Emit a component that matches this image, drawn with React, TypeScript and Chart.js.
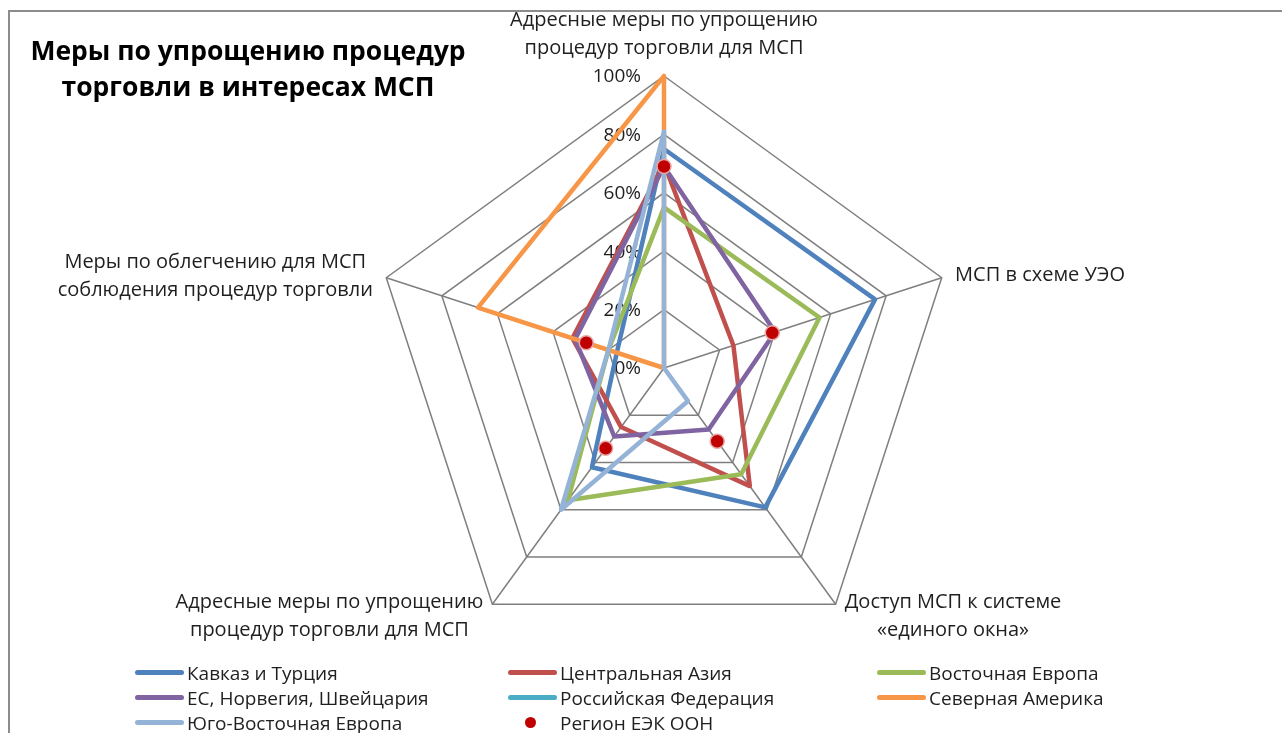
import React, { useEffect, useRef } from "react";
import { Chart, registerables } from "chart.js";

Chart.register(...registerables);

const FONT = '"Open Sans", "Noto Sans", "Liberation Sans", sans-serif';

const axisLabels: string[][] = [
  ["Адресные меры по упрощению", "процедур торговли для МСП"],
  ["МСП в схеме УЭО"],
  ["Доступ МСП к системе", "«единого окна»"],
  ["Адресные меры по упрощению", "процедур торговли для МСП"],
  ["Меры по облегчению для МСП", "соблюдения процедур торговли"],
];

const tickValues = [0, 20, 40, 60, 80, 100];
const tickLabels = ["0%", "20%", "40%", "60%", "80%", "100%"];

const seriesNames = [
  "Кавказ и Турция",
  "Центральная Азия",
  "Восточная Европа",
  "ЕС, Норвегия, Швейцария",
  "Российская Федерация",
  "Северная Америка",
  "Юго-Восточная Европа",
  "Регион ЕЭК ООН",
];

const kavkazTurkey = [75, 76, 59, 42, 17];
const centralAsia = [70, 25, 50, 25, 33];
const easternEurope = [55, 56, 45, 56, 20];
const euNorwaySwiss = [69, 40, 26, 29, 32];
const russianFederation: (number | null)[] = [null, null, null, null, null];
const northAmerica = [100, 0, 0, 0, 67];
const southEastEurope = [81, 0, 14, 60, 20];
const uneceRegion = [69, 39, 31, 34, 28];

const seriesColors = [
  "#4F81BD",
  "#C0504D",
  "#9BBB59",
  "#8064A2",
  "#4BACC6",
  "#F79646",
  "#95B3D7",
  "#C00000",
];

const seriesData = [
  kavkazTurkey,
  centralAsia,
  easternEurope,
  euNorwaySwiss,
  russianFederation,
  northAmerica,
  southEastEurope,
  uneceRegion,
];

const LABEL_FONT_SIZE = 20;
const TICK_FONT_SIZE = 19;
const LEGEND_FONT_SIZE = 19;
const LABEL_LINE = 28;
const TEXT_COLOR = "#1F1F1F";

const labelsPlugin = {
  id: "customLabels",
  beforeDatasetsDraw(chart: any) {
    const scale = chart.scales.r;
    const ctx = chart.ctx;
    ctx.save();
    ctx.font = `${TICK_FONT_SIZE}px ${FONT}`;
    ctx.fillStyle = TEXT_COLOR;
    ctx.textAlign = "right";
    ctx.textBaseline = "middle";
    tickValues.forEach((v, i) => {
      const d = scale.getDistanceFromCenterForValue(v);
      ctx.fillText(tickLabels[i], scale.xCenter - 23, scale.yCenter - d + 1);
    });
    ctx.restore();
  },
  afterDraw(chart: any) {
    const scale = chart.scales.r;
    const ctx = chart.ctx;
    ctx.save();
    ctx.font = `${LABEL_FONT_SIZE}px ${FONT}`;
    ctx.fillStyle = TEXT_COLOR;
    ctx.textBaseline = "middle";
    ctx.textAlign = "center";
    axisLabels.forEach((lines, i) => {
      const pos = scale.getPointPosition(i, scale.drawingArea + 12);
      const w = Math.max(...lines.map((l) => ctx.measureText(l).width));
      const h = lines.length * LABEL_LINE;
      let cx = pos.x;
      const dx = pos.x - scale.xCenter;
      if (dx > 5) cx = pos.x + 2 + w / 2;
      else if (dx < -5) cx = pos.x - 2 - w / 2;
      let top: number;
      if (i === 0) top = pos.y - 2 - h;
      else if (lines.length === 1) top = pos.y + 1 - h / 2;
      else top = pos.y + 2 - h / 2;
      lines.forEach((l, k) => {
        ctx.fillText(l, cx, top + LABEL_LINE * k + LABEL_LINE / 2);
      });
    });
    ctx.restore();
  },
};

function LegendItem({ name, color, dot }: { name: string; color: string; dot: boolean }) {
  return (
    <div style={{ display: "flex", alignItems: "center", height: 25 }}>
      <div style={{ width: 49, height: 25, position: "relative", flex: "none" }}>
        {dot ? (
          <div
            style={{
              position: "absolute",
              left: 17,
              top: 7,
              width: 11,
              height: 11,
              borderRadius: "50%",
              background: color,
            }}
          />
        ) : (
          <div
            style={{
              position: "absolute",
              left: 0,
              top: 10,
              width: 49,
              height: 5,
              borderRadius: 3,
              background: color,
            }}
          />
        )}
      </div>
      <span style={{ marginLeft: 3, fontSize: LEGEND_FONT_SIZE, color: TEXT_COLOR, whiteSpace: "nowrap" }}>
        {name}
      </span>
    </div>
  );
}

export default function App() {
  const canvasRef = useRef<HTMLCanvasElement | null>(null);

  useEffect(() => {
    if (!canvasRef.current) return;
    const datasets = seriesNames.map((name, i) => {
      const isDot = i === seriesNames.length - 1;
      return {
        label: name,
        data: seriesData[i],
        borderColor: seriesColors[i],
        backgroundColor: seriesColors[i],
        borderWidth: isDot ? 0 : 4.5,
        borderJoinStyle: "round" as const,
        fill: false,
        showLine: !isDot,
        pointRadius: isDot ? 7 : 0,
        pointHoverRadius: isDot ? 7 : 0,
        pointBackgroundColor: seriesColors[i],
        pointBorderColor: "#E6A6A6",
        pointBorderWidth: isDot ? 1.5 : 0,
        order: seriesNames.length - i,
      };
    });
    const chart = new Chart(canvasRef.current, {
      type: "radar",
      data: {
        labels: axisLabels.map((l) => l.join(" ")),
        datasets,
      },
      plugins: [labelsPlugin],
      options: {
        responsive: false,
        animation: false,
        layout: { padding: { left: 372, right: 326, top: 76, bottom: 73 } },
        plugins: { legend: { display: false }, tooltip: { enabled: false } },
        scales: {
          r: {
            min: 0,
            max: 100,
            ticks: { stepSize: 20, display: false },
            pointLabels: { display: false },
            grid: { color: "#7F7F7F", lineWidth: 1.5 },
            angleLines: { color: "#7F7F7F", lineWidth: 1.5 },
          },
        },
      },
    });
    return () => chart.destroy();
  }, []);

  const cols = [135, 508, 877];
  const rows = [660, 685, 710];

  return (
    <div style={{ position: "relative", width: 1282, height: 733, overflow: "hidden", fontFamily: FONT, background: "#fff" }}>
      <style>{`html,body{margin:0;padding:0;overflow:hidden;background:#fff}`}</style>
      <div
        style={{
          position: "absolute",
          left: 8,
          top: 10,
          width: 1300,
          height: 800,
          borderTop: "2px solid #8C8C8C",
          borderLeft: "2px solid #8C8C8C",
        }}
      />
      <canvas
        ref={canvasRef}
        width={1282}
        height={733}
        style={{ position: "absolute", left: 0, top: 0, display: "block" }}
      />
      <div
        style={{
          position: "absolute",
          left: 10,
          top: 32,
          width: 476,
          textAlign: "center",
          fontWeight: 700,
          fontSize: 26.5,
          lineHeight: "36px",
          color: "#000",
        }}
      >
        Меры по упрощению процедур
        <br />
        торговли в интересах МСП
      </div>
      {seriesNames.map((name, i) => (
        <div key={name} style={{ position: "absolute", left: cols[i % 3], top: rows[Math.floor(i / 3)] }}>
          <LegendItem name={name} color={seriesColors[i]} dot={i === seriesNames.length - 1} />
        </div>
      ))}
    </div>
  );
}
